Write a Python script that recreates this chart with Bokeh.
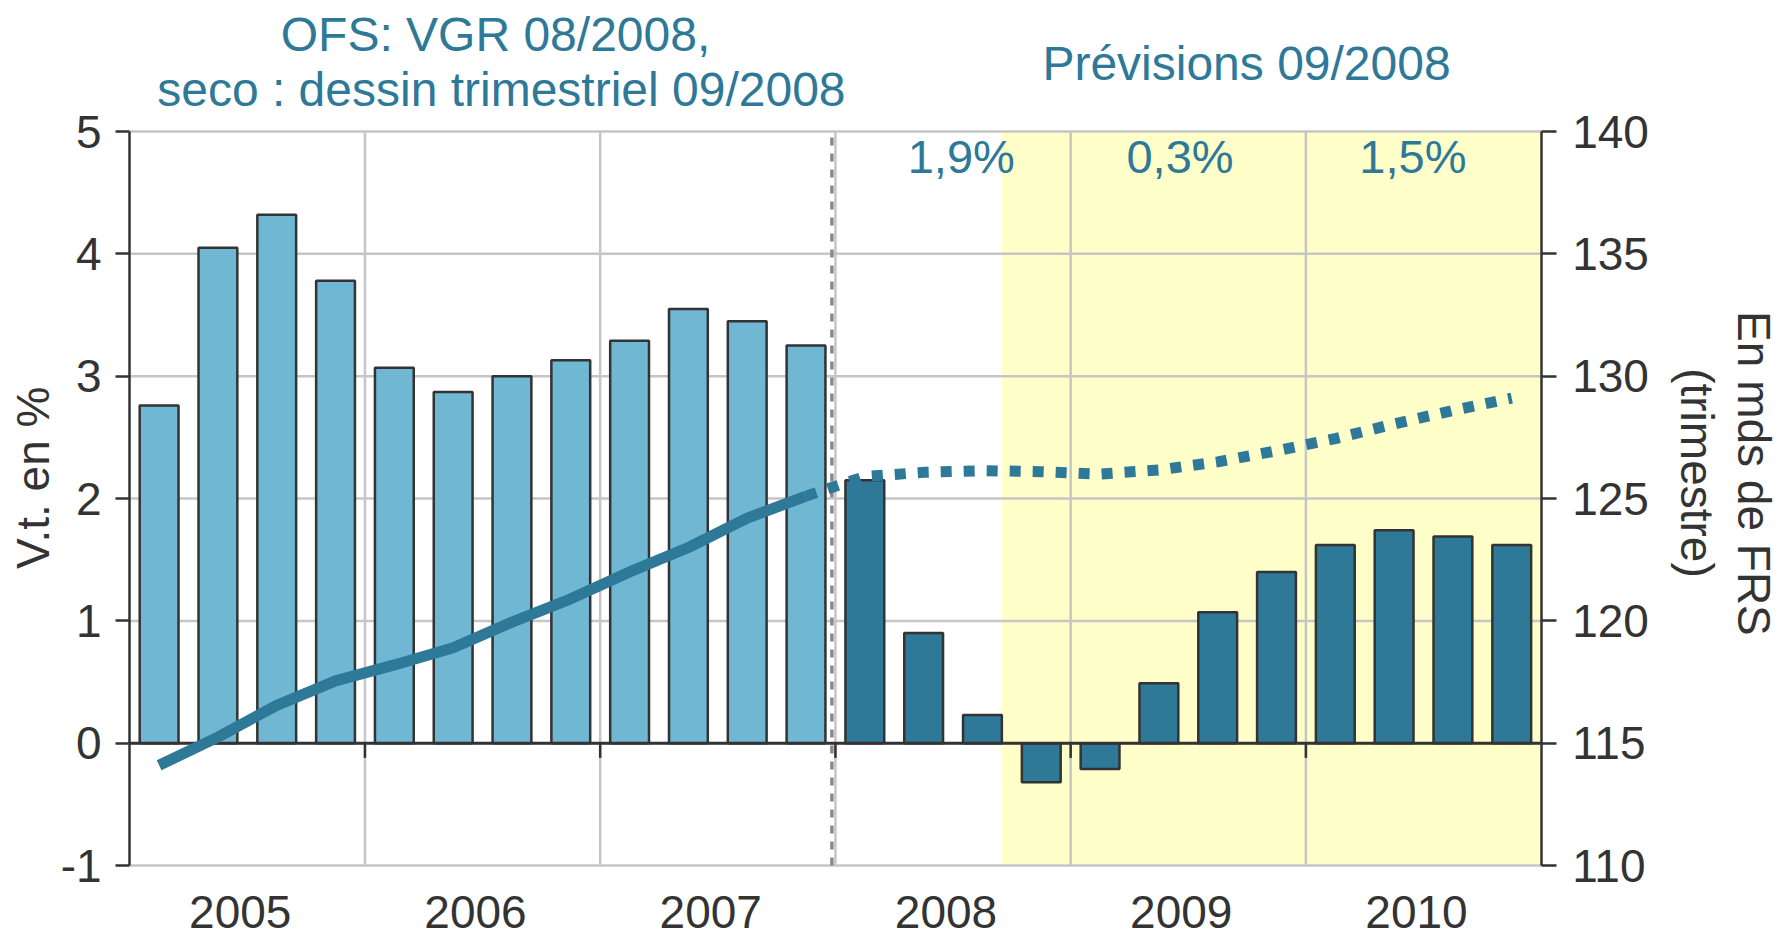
import numpy as np
from bokeh.plotting import figure
from bokeh.models import (Range1d, LinearAxis, FixedTicker, LabelSet, ColumnDataSource)
from bokeh.core.properties import value
from bokeh.embed import file_html
from bokeh.resources import INLINE

# ---------------- data ----------------
years = ["2005", "2006", "2007", "2008", "2009", "2010"]
quarters = [f"{y} T{q}" for y in years for q in range(1, 5)]
# growth vs same quarter previous year (left axis, %)
growth_hist = [2.76, 4.05, 4.32, 3.78, 3.07, 2.87, 3.00, 3.13, 3.29, 3.55, 3.45, 3.25]
growth_fcst = [2.15, 0.90, 0.23, -0.32, -0.21, 0.49, 1.07, 1.40, 1.62, 1.74, 1.69, 1.62]
# GDP level, billions CHF per quarter (right axis)
gdp_hist = [114.1, 115.25, 116.55, 117.55, 118.2, 118.9, 119.95, 120.9, 122.0, 123.0, 124.2, 125.1]
gdp_fcst = [125.9, 126.07, 126.14, 126.1, 126.0, 126.17, 126.5, 126.95, 127.45, 128.05, 128.6, 129.1]
annual_fcst_labels = ["1,9%", "0,3%", "1,5%"]
left_ticks = [-1, 0, 1, 2, 3, 4, 5]
right_ticks = [110, 115, 120, 125, 130, 135, 140]

# ---------------- style ----------------
FONT = "Liberation Sans"
TEAL = "#2e7898"
LIGHT = "#70b7d4"
DARK = "#2e7898"
GREY_TXT = "#333333"
GRID = "#c6c6c6"
YELLOW = "#ffffca"
FORECAST_START = 14.83

n_hist = len(growth_hist)
n_all = n_hist + len(growth_fcst)
xc = np.arange(n_all) + 0.5
ylo, yhi = left_ticks[0], left_ticks[-1]
rlo, rhi = right_ticks[0], right_ticks[-1]

# the frame covers the whole figure; axes are pinned at the data edges
X0, X1 = -2.197, 28.087
Y0, Y1 = -1.588, 6.071
ratio = (rhi - rlo) / (yhi - ylo)
p = figure(width=1781, height=937, output_backend="svg", toolbar_location=None,
           x_range=Range1d(X0, X1), y_range=Range1d(Y0, Y1),
           min_border_left=0, min_border_right=0, min_border_top=0,
           min_border_bottom=0)
p.extra_y_ranges = {"r": Range1d(rlo + (Y0 - ylo) * ratio, rlo + (Y1 - ylo) * ratio)}
p.outline_line_color = None
p.background_fill_color = "white"
p.border_fill_color = "white"
p.xaxis.visible = False
p.xgrid.visible = False
p.ygrid.visible = False

# forecast shading
p.quad(left=[FORECAST_START], right=[n_all], bottom=[ylo], top=[yhi],
       fill_color=YELLOW, line_color=None, level="image")

# grid lines
yb = np.arange(4, n_all, 4)
p.segment(x0=yb, x1=yb, y0=np.full(len(yb), ylo), y1=np.full(len(yb), yhi),
          line_color=GRID, line_width=2.5, level="underlay")
p.segment(x0=np.zeros(len(left_ticks)), x1=np.full(len(left_ticks), n_all),
          y0=left_ticks, y1=left_ticks, line_color=GRID, line_width=2.5, level="underlay")


def style_axis(a, tick_out, standoff):
    a.axis_line_color = GREY_TXT
    a.axis_line_width = 2.5
    a.major_tick_line_color = GREY_TXT
    a.major_tick_line_width = 2.5
    a.major_tick_out = tick_out
    a.major_tick_in = 0
    a.minor_tick_line_color = None
    a.major_label_text_font = FONT
    a.major_label_text_font_size = "46px"
    a.major_label_text_color = GREY_TXT
    a.major_label_standoff = standoff


ax = p.yaxis[0]
ax.ticker = FixedTicker(ticks=left_ticks)
ax.bounds = (ylo, yhi)
ax.fixed_location = 0
ax.major_label_overrides = {-1: "-1"}
style_axis(ax, 14, 14)

rax = LinearAxis(y_range_name="r", ticker=FixedTicker(ticks=right_ticks),
                 bounds=(rlo, rhi), fixed_location=n_all)
style_axis(rax, 15, 16)
p.add_layout(rax, "right")

# bars
src_h = ColumnDataSource(dict(x=xc[:n_hist], top=growth_hist, q=quarters[:n_hist]))
src_f = ColumnDataSource(dict(x=xc[n_hist:], top=growth_fcst, q=quarters[n_hist:]))
p.vbar(x="x", top="top", bottom=0, width=0.66, source=src_h,
       fill_color=LIGHT, line_color=GREY_TXT, line_width=2.5)
p.vbar(x="x", top="top", bottom=0, width=0.66, source=src_f,
       fill_color=DARK, line_color=GREY_TXT, line_width=2.5)

# zero line and year ticks on it
p.segment(x0=[0], x1=[n_all], y0=[0], y1=[0], line_color=GREY_TXT, line_width=3)
p.segment(x0=yb, x1=yb, y0=np.zeros(len(yb)), y1=np.full(len(yb), -0.12),
          line_color=GREY_TXT, line_width=2.5)

# separation data / forecast
p.segment(x0=[n_hist - 0.06], x1=[n_hist - 0.06], y0=[ylo], y1=[yhi],
          line_color="#8a8a8a", line_width=3.5, line_dash="8 8")

# GDP level lines
p.line(x=xc[:n_hist], y=gdp_hist, y_range_name="r", line_color=TEAL, line_width=11)
p.line(x=xc[n_hist - 1:], y=[gdp_hist[-1]] + gdp_fcst, y_range_name="r",
       line_color=TEAL, line_width=11, line_dash="11 12", line_cap="butt")


def labels(xs, ys, texts, color, size, angle=0.0):
    src = ColumnDataSource(dict(x=xs, y=ys, t=texts))
    p.add_layout(LabelSet(x="x", y="y", text="t", source=src, text_align="center",
                          text_baseline="alphabetic", text_font=value(FONT),
                          text_font_size=size, text_color=color, angle=angle))


# year labels
labels(list(np.arange(len(years)) * 4 + 1.88), [-1.507] * len(years), years, GREY_TXT, "46px")
# annual forecast labels
labels([14.14, 17.86, 21.82], [4.66] * 3, annual_fcst_labels, TEAL, "47px")
# titles
labels([6.22, 6.32, 18.99], [5.66, 5.21, 5.42],
       ["OFS: VGR 08/2008,", "seco : dessin trimestriel 09/2008", "Prévisions 09/2008"],
       TEAL, "48px")
# axis titles
labels([-1.377], [2.17], ["V.t. en %"], GREY_TXT, "46px", angle=np.pi / 2)
labels([27.35, 26.38], [2.205, 2.209], ["En mds de FRS", "(trimestre)"], GREY_TXT, "46px",
       angle=-np.pi / 2)

open("out.html", "w").write(file_html(p, INLINE))
